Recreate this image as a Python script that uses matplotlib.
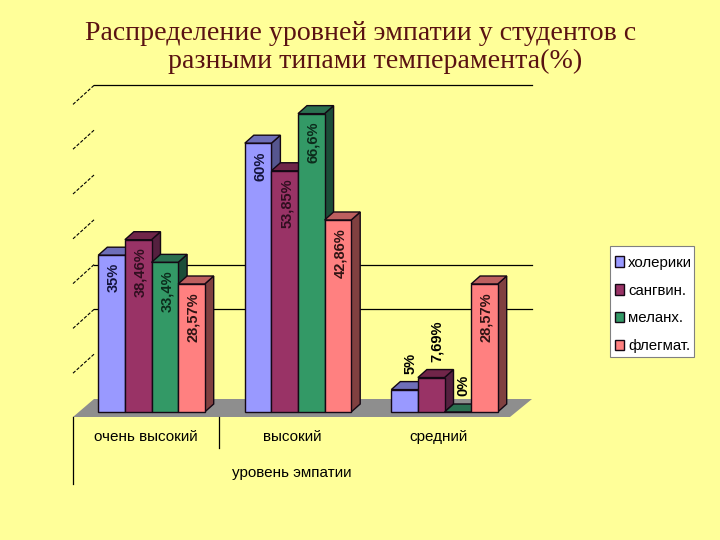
import matplotlib
matplotlib.use("Agg")
import matplotlib.pyplot as plt
from matplotlib.patches import Polygon, Patch, Rectangle

categories = ["очень высокий", "высокий", "средний"]
series = ["холерики", "сангвин.", "меланх.", "флегмат."]
holeriki = [35, 60, 5]
sangvin = [38.46, 53.85, 7.69]
melanh = [33.4, 66.6, 0]
flegmat = [28.57, 42.86, 28.57]
labels = [["35%", "60%", "5%"],
          ["38,46%", "53,85%", "7,69%"],
          ["33,4%", "66,6%", "0%"],
          ["28,57%", "42,86%", "28,57%"]]
wall_ticks = [0, 10, 20, 30, 40, 50, 60, 70]
drawn_grid = [20, 30, 70]

values = [holeriki, sangvin, melanh, flegmat]
front = ["#9999FF", "#993366", "#339966", "#FF8080"]
top = ["#6E6EB8", "#702549", "#2A7050", "#BD5F5F"]
side = ["#56568F", "#55203F", "#1B4D38", "#804040"]
text_on = ["#14143C", "#300F20", "#0C2C1C", "#301414"]
BG = "#FFFF99"
TITLE = "#5A1212"

# pixel layout of the picture
PX_GROUP = 146.5
PX_VAL = 4.48
X0 = 151.5
Y0 = 412


def dx(px):
    return px / PX_GROUP


def dy(px):
    return px / PX_VAL


def xp(px):
    return (px - X0) / PX_GROUP


def yp(py):
    return (Y0 - py) / PX_VAL


fig = plt.figure(figsize=(7.2, 5.4), dpi=100, facecolor=BG)
ax = fig.add_axes([0, 0, 1, 1])
ax.set_xlim(xp(0), xp(720))
ax.set_ylim(yp(540), yp(0))
ax.axis("off")

plt.rcParams["font.family"] = ["Liberation Sans", "DejaVu Sans"]

# floor and back wall
ax.add_patch(Polygon([(xp(73), yp(417)), (xp(94), yp(399)), (xp(532), yp(399)), (xp(510), yp(417))],
                     facecolor="#8E8E8E", edgecolor="none", zorder=1))
wall0 = yp(399)
for v in wall_ticks[1:]:
    y = wall0 + v * 1.0
    ax.plot([xp(73), xp(94)], [y - dy(19), y], color="black", lw=0.8, ls=(0, (3, 1.5)), zorder=1)
for v in drawn_grid:
    ax.plot([xp(94), xp(532)], [wall0 + v, wall0 + v], color="black", lw=0.9, zorder=1)

# axis lines under the floor
ax.plot([xp(73), xp(73)], [yp(417), yp(484)], color="black", lw=0.9)
ax.plot([xp(219), xp(219)], [yp(417), yp(448)], color="black", lw=0.9)

# bars
w = dx(26.6)
ddx = dx(9)
ddy = dy(8)
edge = dict(edgecolor="#140814", linewidth=1.0)
for g in range(len(categories)):
    for s in range(len(series)):
        v = values[s][g]
        x = g + (s - 2) * w
        z = 2 + g * 10 + s
        ax.add_patch(Polygon([(x + w, 0), (x + w + ddx, ddy), (x + w + ddx, v + ddy), (x + w, v)],
                             facecolor=side[s], zorder=z, **edge))
        ax.add_patch(Polygon([(x, v), (x + ddx, v + ddy), (x + w + ddx, v + ddy), (x + w, v)],
                             facecolor=top[s], zorder=z, **edge))
        ax.bar(x, v, w, align="edge", color=front[s], zorder=z + 0.5, **edge)
        if v >= 20:
            ax.text(x + w / 2 + dx(2), v - dy(8), labels[s][g], rotation=90, ha="center", va="top",
                    fontsize=10.5, fontweight="bold", color=text_on[s], zorder=60)
        else:
            ax.text(x + w / 2 + dx(6), v + dy(16), labels[s][g], rotation=90, ha="center", va="bottom",
                    fontsize=10.5, fontweight="bold", color="black", zorder=60)

# category labels
for g, name in enumerate(categories):
    ax.text(g - dx(5.5), yp(437), name, ha="center", va="center", fontsize=11, color="black")
ax.text(xp(292), yp(473), "уровень эмпатии", ha="center", va="center", fontsize=11, color="black")

# title
ax.text(xp(85), yp(33), "Распределение уровней эмпатии у студентов с", ha="left", va="center",
        fontsize=20.1, family="Liberation Serif", color=TITLE)
ax.text(xp(168), yp(61), "разными типами темперамента(%)", ha="left", va="center",
        fontsize=20.1, family="Liberation Serif", color=TITLE)

# legend box is drawn apart, the entries sit lower in it than a legend frame allows
ax.add_patch(Rectangle((xp(610), yp(357)), dx(84), dy(111), facecolor="white", edgecolor="#808080",
                       linewidth=0.8, zorder=1))
handles = [Patch(facecolor=c, edgecolor="#140814", linewidth=1.0) for c in front]
leg = ax.legend(handles, series, loc="upper left", bbox_to_anchor=(611 / 720, 1 - 252 / 540),
                bbox_transform=fig.transFigure, fontsize=10.8, frameon=False, borderaxespad=0,
                handlelength=0.6, handleheight=0.7, handletextpad=0.3, labelspacing=0.92,
                borderpad=0.25)

fig.savefig("out.png", dpi=100, facecolor=BG)
